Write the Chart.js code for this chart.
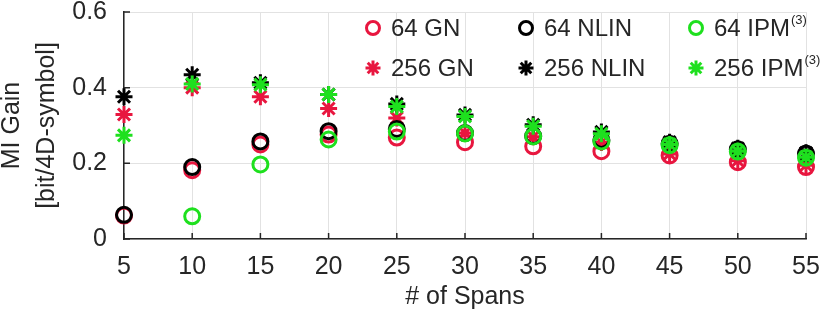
<!DOCTYPE html>
<html>
<head>
<meta charset="utf-8">
<script src="https://cdn.jsdelivr.net/npm/chart.js@4/dist/chart.umd.min.js"></script>
<style>
  body { margin: 0; background: #fff; }
  canvas { display: block; }
</style>
</head>
<body>
<canvas id="myChart" width="830" height="319"></canvas>
<script>
'use strict';

let spans = [5, 10, 15, 20, 25, 30, 35, 40, 45, 50, 55];
let gn64 = [0.062, 0.182, 0.25, 0.276, 0.268, 0.256, 0.245, 0.232, 0.221, 0.203, 0.19];
let nlin64 = [0.064, 0.19, 0.258, 0.285, 0.291, 0.28, 0.272, 0.262, 0.252, 0.237, 0.226];
let ipm64 = [null, 0.06, 0.197, 0.263, 0.284, 0.279, 0.271, 0.258, 0.248, 0.231, 0.215];
let gn256 = [0.329, 0.40, 0.376, 0.345, 0.32, 0.28, 0.27, 0.255, 0.225, 0.207, 0.195];
let nlin256 = [0.376, 0.434, 0.413, 0.382, 0.357, 0.328, 0.302, 0.283, 0.256, 0.24, 0.228];
let ipm256 = [0.274, 0.41, 0.408, 0.382, 0.35, 0.324, 0.298, 0.278, 0.25, 0.232, 0.216];
let yTicks = [0, 0.2, 0.4, 0.6];

let red = '#e8163f';
let black = '#000000';
let green = '#1ee01e';
let textColor = '#262626';
let fontFamily = '"Liberation Sans", Arial, sans-serif';

function points(values) {
  let out = [];
  for (let i = 0; i < spans.length; i++) {
    if (values[i] !== null) {
      out.push({ x: spans[i], y: values[i] });
    }
  }
  return out;
}

function makeSet(label, sup, values, color, style, order) {
  return {
    label: label,
    sup: sup,
    data: points(values),
    pointStyle: style,
    radius: style === 'star' ? 8.5 : 7.5,
    borderWidth: 3,
    borderColor: color,
    backgroundColor: 'rgba(0,0,0,0)',
    order: order,
    clip: false
  };
}

// legend order: top row 64, bottom row 256
let datasets = [
  makeSet('64 GN', '', gn64, red, 'circle', 5),
  makeSet('64 NLIN', '', nlin64, black, 'circle', 3),
  makeSet('64 IPM', '(3)', ipm64, green, 'circle', 1),
  makeSet('256 GN', '', gn256, red, 'star', 4),
  makeSet('256 NLIN', '', nlin256, black, 'star', 2),
  makeSet('256 IPM', '(3)', ipm256, green, 'star', 0)
];

let legendCols = [373, 526, 696];
let legendRows = [28, 68];

function drawMarker(ctx, ds, x, y) {
  ctx.save();
  ctx.strokeStyle = ds.borderColor;
  ctx.lineWidth = 3;
  ctx.beginPath();
  if (ds.pointStyle === 'circle') {
    ctx.arc(x, y, 6.5, 0, Math.PI * 2);
  } else {
    let r = 7.5;
    for (let k = 0; k < 4; k++) {
      let a = k * Math.PI / 4;
      ctx.moveTo(x - r * Math.cos(a), y - r * Math.sin(a));
      ctx.lineTo(x + r * Math.cos(a), y + r * Math.sin(a));
    }
  }
  ctx.stroke();
  ctx.restore();
}

let legendPlugin = {
  id: 'gridLegend',
  afterDraw(chart) {
    let ctx = chart.ctx;
    chart.data.datasets.forEach((ds, i) => {
      let x = legendCols[i % 3];
      let y = legendRows[Math.floor(i / 3)];
      drawMarker(ctx, ds, x, y);
      ctx.save();
      ctx.fillStyle = textColor;
      ctx.textBaseline = 'middle';
      ctx.font = '24px ' + fontFamily;
      let tx = x + 18;
      ctx.fillText(ds.label, tx, y + 1);
      if (ds.sup) {
        let w = ctx.measureText(ds.label).width;
        ctx.font = '13px ' + fontFamily;
        ctx.fillText(ds.sup, tx + w + 1, y - 8);
      }
      ctx.restore();
    });
  }
};

let innerTicks = {
  id: 'innerTicks',
  beforeDatasetsDraw(chart) {
    let ctx = chart.ctx;
    let xs = chart.scales.x;
    let ys = chart.scales.y;
    let area = chart.chartArea;
    ctx.save();
    ctx.strokeStyle = textColor;
    ctx.lineWidth = 1.5;
    ctx.beginPath();
    spans.forEach(v => {
      let px = xs.getPixelForValue(v);
      ctx.moveTo(px, area.bottom);
      ctx.lineTo(px, area.bottom - 6);
    });
    yTicks.forEach(v => {
      let py = ys.getPixelForValue(v);
      ctx.moveTo(area.left, py);
      ctx.lineTo(area.left + 6, py);
    });
    ctx.stroke();
    ctx.restore();
  }
};

const config = {
  type: 'scatter',
  data: { datasets: datasets },
  options: {
    responsive: false,
    animation: false,
    layout: { padding: { top: 12, right: 24, left: 0, bottom: 0 } },
    plugins: {
      legend: { display: false },
      tooltip: { enabled: false }
    },
    scales: {
      x: {
        type: 'linear',
        min: 5,
        max: 55,
        afterFit(scale) {
          scale.height = 80;
          scale.paddingLeft = 0;
          scale.paddingRight = 0;
        },
        afterBuildTicks(scale) { scale.ticks = spans.map(v => ({ value: v })); },
        grid: { color: '#e2e2e2', lineWidth: 1, drawTicks: false },
        border: { color: textColor, width: 1.5 },
        ticks: {
          padding: 13,
          color: textColor,
          font: { family: fontFamily, size: 25 }
        },
        title: {
          display: true,
          text: '# of Spans',
          color: textColor,
          font: { family: fontFamily, size: 25, lineHeight: 1.2 },
          padding: { top: 0, bottom: 7 }
        }
      },
      y: {
        type: 'linear',
        min: 0,
        max: 0.6,
        afterFit(scale) {
          scale.width = 124;
          scale.paddingTop = 0;
          scale.paddingBottom = 0;
        },
        afterBuildTicks(scale) { scale.ticks = yTicks.map(v => ({ value: v })); },
        grid: { color: '#e2e2e2', lineWidth: 1, drawTicks: false },
        border: { color: textColor, width: 1.5 },
        ticks: {
          padding: 17,
          color: textColor,
          font: { family: fontFamily, size: 25 },
          callback: v => String(+v.toFixed(1))
        },
        title: {
          display: true,
          text: ['MI Gain', '[bit/4D-symbol]'],
          color: textColor,
          font: { family: fontFamily, size: 25, lineHeight: 1.4 },
          padding: { top: -5, bottom: 0 }
        }
      }
    }
  },
  plugins: [legendPlugin, innerTicks]
};

const myChart = new Chart(document.getElementById('myChart'), config);
</script>
</body>
</html>
